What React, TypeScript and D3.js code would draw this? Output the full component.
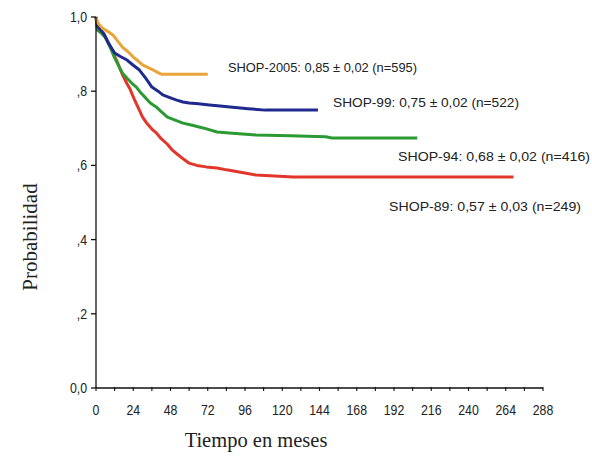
import React from 'react';
import * as d3 from 'd3';

// Kaplan-Meier curves: months / probability
const shop2005Months = [0, 1, 4, 8, 11, 14, 17, 21, 24, 27, 30, 34, 37, 40, 42, 72];
const shop2005Prob = [1.0, 0.985, 0.97, 0.96, 0.951, 0.935, 0.919, 0.905, 0.892, 0.882, 0.871, 0.863, 0.857, 0.85, 0.846, 0.846];

const shop99Months = [0, 1, 3, 5, 8, 12, 16, 20, 24, 28, 32, 36, 40, 43, 48, 52, 56, 60, 66, 73, 80, 88, 98, 109, 143];
const shop99Prob = [1.0, 0.975, 0.965, 0.955, 0.93, 0.903, 0.893, 0.884, 0.87, 0.857, 0.835, 0.811, 0.8, 0.79, 0.782, 0.776, 0.771, 0.768, 0.766, 0.763, 0.76, 0.757, 0.753, 0.749, 0.749];

const shop94Months = [0, 1, 3, 6, 9, 12, 15, 17, 20, 23, 26, 29, 32, 35, 39, 42, 46, 51, 56, 62, 69, 78, 90, 103, 125, 148, 152, 207];
const shop94Prob = [1.0, 0.965, 0.958, 0.945, 0.92, 0.89, 0.865, 0.849, 0.835, 0.822, 0.811, 0.795, 0.782, 0.768, 0.757, 0.745, 0.73, 0.722, 0.714, 0.708, 0.701, 0.69, 0.686, 0.682, 0.68, 0.677, 0.674, 0.674];

const shop89Months = [0, 1, 3, 5, 8, 11, 14, 17, 20, 22, 25, 28, 30, 33, 36, 39, 42, 46, 49, 53, 57, 60, 65, 71, 78, 84, 95, 103, 127, 269];
const shop89Prob = [1.0, 0.965, 0.96, 0.955, 0.93, 0.903, 0.876, 0.845, 0.82, 0.805, 0.775, 0.748, 0.73, 0.712, 0.698, 0.687, 0.672, 0.657, 0.642, 0.628, 0.615, 0.606, 0.6, 0.596, 0.593, 0.588, 0.58, 0.574, 0.569, 0.569];

const seriesNames = ['SHOP-2005', 'SHOP-99', 'SHOP-94', 'SHOP-89'];
const seriesLabels = [
  'SHOP-2005: 0,85 ± 0,02 (n=595)',
  'SHOP-99: 0,75 ± 0,02 (n=522)',
  'SHOP-94: 0,68 ± 0,02 (n=416)',
  'SHOP-89: 0,57 ± 0,03 (n=249)',
];
const seriesColors = ['#eaa53a', '#1e2a8e', '#2c9a32', '#e2362a'];

const xTicks = [0, 24, 48, 72, 96, 120, 144, 168, 192, 216, 240, 264, 288];
const xMinorTicks = d3.range(0, 289, 12);
const yTicks = [0, 0.2, 0.4, 0.6, 0.8, 1.0];
const yTickLabels = ['0,0', ',2', ',4', ',6', ',8', '1,0'];

const App = () => {
  const width = 592;
  const height = 457;
  const x = d3.scaleLinear().domain([0, 288]).range([96, 543]);
  const y = d3.scaleLinear().domain([0, 1]).range([388, 17]);

  const series = [
    { months: shop2005Months, prob: shop2005Prob },
    { months: shop99Months, prob: shop99Prob },
    { months: shop94Months, prob: shop94Prob },
    { months: shop89Months, prob: shop89Prob },
  ];

  const line = d3.line<[number, number]>()
    .x(d => x(d[0]))
    .y(d => y(d[1]))
    .curve(d3.curveLinear);

  // label placement (left x, baseline y)
  const labelPos = [
    [228, 72],
    [333, 107],
    [398, 161],
    [389, 211],
  ];

  const narrow = (cx: number) => `translate(${cx},0) scale(0.88,1) translate(${-cx},0)`;

  return (
    <svg width={width} height={height} style={{ position: 'absolute', left: 0, top: 0, background: '#fff' }}>
      <rect width={width} height={height} fill="#fff" />

      {/* curves (red at the bottom of the stack, orange on top) */}
      {series.map((s, i) => i).reverse().map(i => (
        <path
          key={seriesNames[i]}
          d={line(series[i].months.map((m, j) => [m, series[i].prob[j]] as [number, number])) || ''}
          fill="none"
          stroke={seriesColors[i]}
          strokeWidth={3}
          strokeLinejoin="round"
        />
      ))}

      {/* y axis */}
      <line x1={x(0)} x2={x(0)} y1={y(1)} y2={y(0)} stroke="#111" strokeWidth={1.3} />
      {yTicks.map((t, i) => (
        <g key={t}>
          <line x1={x(0) - 5} x2={x(0)} y1={y(t)} y2={y(t)} stroke="#111" strokeWidth={1.3} />
          <text x={x(0) - 9} y={y(t) + 5} textAnchor="end" fontFamily="Liberation Sans, Arial, sans-serif" fontSize={14} fill="#222" transform={narrow(x(0) - 9)}>
            {yTickLabels[i]}
          </text>
        </g>
      ))}

      {/* x axis */}
      <line x1={x(0)} x2={x(288)} y1={y(0)} y2={y(0)} stroke="#111" strokeWidth={1.3} />
      {xMinorTicks.map(t => (
        <line key={t} x1={x(t)} x2={x(t)} y1={y(0) - 1} y2={y(0) + 3} stroke="#111" strokeWidth={1.1} />
      ))}
      {xTicks.map(t => (
        <text key={t} x={x(t)} y={415} textAnchor="middle" fontFamily="Liberation Sans, Arial, sans-serif" fontSize={14} fill="#222" transform={narrow(x(t))}>
          {t}
        </text>
      ))}

      {/* series labels */}
      {seriesLabels.map((lab, i) => (
        <text
          key={lab}
          x={labelPos[i][0]}
          y={labelPos[i][1]}
          fontFamily="Liberation Sans, Arial, sans-serif"
          fontSize={13}
          fill="#222"
          textLength={i === 0 ? 189 : i === 1 ? 186 : 192}
          lengthAdjust="spacingAndGlyphs"
        >
          {lab}
        </text>
      ))}

      {/* axis titles */}
      <text
        transform="translate(37,237) rotate(-90)"
        textAnchor="middle"
        fontFamily="Liberation Serif, Times New Roman, serif"
        fontSize={21}
        fill="#222"
      >
        Probabilidad
      </text>
      <text x={256} y={447} textAnchor="middle" fontFamily="Liberation Serif, Times New Roman, serif" fontSize={20.5} fill="#222">
        Tiempo en meses
      </text>
    </svg>
  );
};

export default App;
